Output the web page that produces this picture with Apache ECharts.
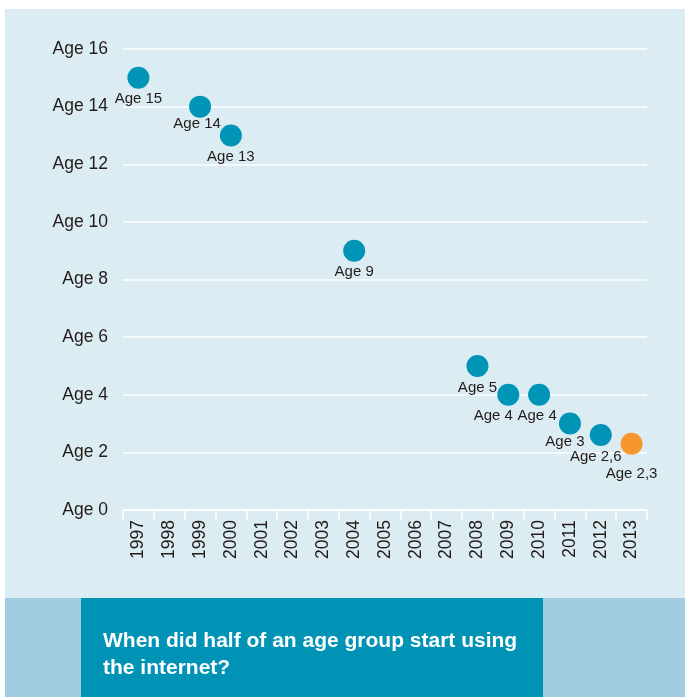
<!DOCTYPE html>
<html>
<head>
<meta charset="utf-8">
<script src="https://cdn.jsdelivr.net/npm/echarts@6/dist/echarts.min.js"></script>
<style>
html,body{margin:0;padding:0;background:#ffffff;}
#chart{width:685px;height:697px;}
</style>
</head>
<body>
<div id="chart"></div>
<script>
// ---- data ----
const years = ['1997','1998','1999','2000','2001','2002','2003','2004','2005','2006','2007','2008','2009','2010','2011','2012','2013'];
const pointYears = ['1997','1999','2000','2004','2008','2009','2010','2011','2012','2013'];
const ages = [15, 14, 13, 9, 5, 4, 4, 3, 2.6, 2.3];
const highlightYear = '2013';
const yTicks = [0, 2, 4, 6, 8, 10, 12, 14, 16];
const titleText = 'When did half of an age group start using\nthe internet?';

// ---- styling ----
const FONT = '"Liberation Sans", Arial, Helvetica, sans-serif';
const TEXT = '#231c19';
const TEAL = '#0094b7';
const ORANGE = '#f7952f';
const labelShift = { '1999': [-3, -4], '2009': [-15, 0], '2010': [-2, 0], '2011': [-5, -3], '2012': [-5, 0], '2013': [0, 9] };

const chart = echarts.init(document.getElementById('chart'), null, { renderer: 'canvas' });

const seriesData = pointYears.map((y, i) => {
  const item = { value: [y, ages[i]] };
  item.itemStyle = { color: y === highlightYear ? ORANGE : TEAL, opacity: 1 };
  if (labelShift[y]) item.label = { offset: labelShift[y] };
  return item;
});

chart.setOption({
  animation: false,
  backgroundColor: '#ffffff',
  textStyle: { fontFamily: FONT },
  graphic: [
    { type: 'rect', z: -10, shape: { x: 5, y: 9, width: 680, height: 589 }, style: { fill: '#dcecf3' } },
    { type: 'rect', z: -10, shape: { x: 5, y: 598, width: 680, height: 99 }, style: { fill: '#a2cde0' } },
    { type: 'rect', z: -9, shape: { x: 81, y: 598, width: 462, height: 99 }, style: { fill: '#0093b6' } }
  ],
  title: {
    text: titleText,
    left: 98,
    top: 623,
    textStyle: { color: '#ffffff', fontSize: 21, fontWeight: 'bold', lineHeight: 27, fontFamily: FONT }
  },
  grid: { left: 123, right: 38, top: 49, bottom: 187, containLabel: false },
  xAxis: {
    type: 'category',
    data: years,
    boundaryGap: true,
    axisLine: { show: true, lineStyle: { color: '#ffffff', width: 1.5 } },
    axisTick: { show: true, length: 10, alignWithLabel: false, lineStyle: { color: '#ffffff', width: 1.5 } },
    axisLabel: { rotate: 90, fontSize: 17.5, color: TEXT, margin: 10, interval: 0, fontFamily: FONT },
    splitLine: { show: false }
  },
  yAxis: {
    type: 'value',
    min: yTicks[0],
    max: yTicks[yTicks.length - 1],
    interval: yTicks[1] - yTicks[0],
    axisLine: { show: false },
    axisTick: { show: false },
    axisLabel: { formatter: v => 'Age ' + v, fontSize: 17.5, color: TEXT, margin: 15, fontFamily: FONT },
    splitLine: { show: true, lineStyle: { color: '#ffffff', width: 1.5 } }
  },
  series: [{
    type: 'scatter',
    symbol: 'circle',
    symbolSize: 22,
    data: seriesData,
    itemStyle: { opacity: 1 },
    emphasis: { disabled: true },
    label: {
      show: true,
      position: 'bottom',
      distance: 3,
      fontSize: 15,
      color: TEXT,
      fontFamily: FONT,
      formatter: p => 'Age ' + String(p.value[1]).replace('.', ',')
    }
  }]
});
</script>
</body>
</html>
